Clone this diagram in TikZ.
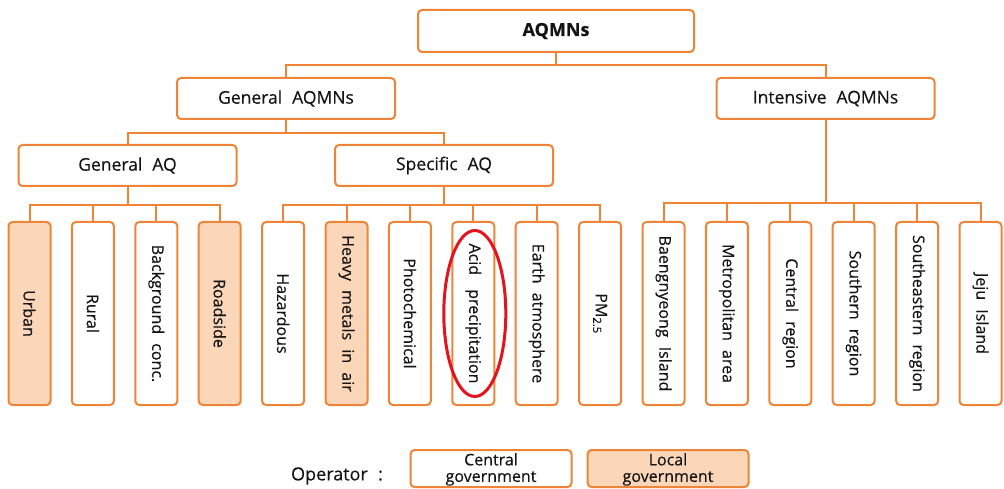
\documentclass[tikz,border=0pt]{standalone}
\usepackage{fontspec}
\setmainfont{Open Sans}[WordSpace=2.2, FakeBold=0.35]
\usetikzlibrary{calc}
\definecolor{edge}{RGB}{238,132,56}
\definecolor{localfill}{RGB}{251,214,184}
\definecolor{txt}{RGB}{20,20,20}
\definecolor{mark}{RGB}{226,20,30}
\tikzset{
  box/.style={draw=edge, line width=2pt, rounded corners=4pt, fill=white,
    text=txt, font=\fontsize{17.5}{20}\selectfont, inner sep=0pt},
  hbox/.style={box, minimum width=218pt, minimum height=41pt},
  leaf/.style={box, minimum width=42pt, minimum height=183pt},
  localbox/.style={fill=localfill},
  link/.style={draw=edge, line width=2pt},
  vtext/.style={rotate=-90, text=txt, font=\fontsize{16}{19}\selectfont, inner sep=0pt},
  highlight/.style={draw=mark, line width=3pt},
  legendbox/.style={box, minimum width=161pt, minimum height=37pt},
  legendtext/.style={text=txt, font=\fontsize{16}{16.5}\selectfont, align=center,
    inner sep=0pt, anchor=north},
}
\begin{document}
\begin{tikzpicture}[x=1pt, y=-1pt]
\useasboundingbox (0,0) rectangle (1004,489);

% hierarchy boxes
\node[box, minimum width=276pt, minimum height=42pt, font=\fontsize{18}{20}\selectfont\bfseries] (top) at (556,31) {AQMNs};
\node[hbox] (gen) at (286,98.5) {General AQMNs};
\node[hbox] (int) at (825.5,98.5) {Intensive AQMNs};
\node[hbox] (gaq) at (127.5,165.5) {General AQ};
\node[hbox] (saq) at (444,165.5) {Specific AQ};

% monitoring network leaves
\foreach \i/\lbl/\st in {
  0/Urban/localbox, 1/Rural/, 2/Background conc./, 3/Roadside/localbox,
  4/Hazardous/, 5/Heavy metals in air/localbox, 6/Photochemical/,
  7/Acid\hspace{5pt} precipitation/, 8/Earth atmosphere/, 9/PM\textsubscript{2.5}/,
  10/Baengnyeong Island/, 11/Metropolitan area/, 12/Central region/,
  13/Southern region/, 14/Southeastern region/, 15/Jeju Island/} {
  \node[leaf, \st] (l\i) at ({29.5+63.4*\i},313.5) {};
  \node[vtext] (t\i) at (l\i.center) {\lbl};
}

% connectors
\draw[link] (top.south) -- ++(0,12) coordinate (j1);
\draw[link] (gen.north) |- (j1) -| (int.north);
\draw[link] (gen.south) -- ++(0,13) coordinate (j2);
\draw[link] (gaq.north) |- (j2) -| (saq.north);

\draw[link] (gaq.south) -- ++(0,18) coordinate (j3);
\draw[link] (l0.north) |- (j3) -| (l3.north);
\foreach \i in {1,2} \draw[link] (l\i.north) -- (l\i.north |- j3);

\draw[link] (saq.south) -- ++(0,18) coordinate (j4);
\draw[link] (l4.north) |- (j4) -| (l9.north);
\foreach \i in {5,...,8} \draw[link] (l\i.north) -- (l\i.north |- j4);

\draw[link] (int.south) -- ++(0,83) coordinate (j5);
\draw[link] (l10.north) |- (j5) -| (l15.north);
\foreach \i in {11,...,14} \draw[link] (l\i.north) -- (l\i.north |- j5);

% highlight around acid precipitation
\draw[highlight] ([xshift=1.5pt]l7.center) ellipse (31 and 83);

% legend
\node[text=txt, font=\fontsize{18}{20}\selectfont, inner sep=0pt] (op) at (337,476) {Operator :};
\node[legendbox] (cg) at (491,468.5) {};
\node[legendbox, localbox] (lg) at (668,468.5) {};
\node[legendtext] (cgt) at (491,453) {Central\\government};
\node[legendtext] (lgt) at (668,453) {Local\\government};
\end{tikzpicture}
\end{document}
